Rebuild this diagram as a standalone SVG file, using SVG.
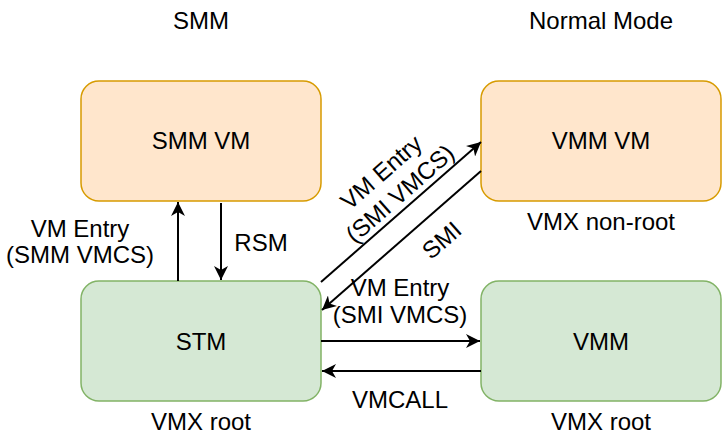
<svg xmlns="http://www.w3.org/2000/svg" width="722" height="442" viewBox="0 0 722 442">
<style>
text{font-family:"Liberation Sans",Arial,Helvetica,sans-serif;font-size:24px;fill:#000;text-anchor:middle}
.o{fill:#ffe6cc;stroke:#d79b00;stroke-width:1.5}
.g{fill:#d5e8d4;stroke:#82b366;stroke-width:1.5}
.c{fill:none;stroke:#000;stroke-width:2;marker-end:url(#a)}
</style>
<defs>
<marker id="a" markerUnits="userSpaceOnUse" markerWidth="16" markerHeight="14" refX="14" refY="7" orient="auto">
<path d="M0,0 L14,7 L0,14 L4,7 Z" fill="#000"/>
</marker>
</defs>
<rect width="722" height="442" fill="#fff"/>
<text x="201" y="29">SMM</text>
<text x="601" y="29">Normal Mode</text>
<g id="smmvm"><rect class="o" x="81" y="81" width="240" height="120" rx="18"/><text x="201" y="149">SMM VM</text></g>
<g id="vmmvm"><rect class="o" x="481" y="81" width="240" height="120" rx="18"/><text x="601" y="149">VMM VM</text><text x="601" y="230">VMX non-root</text></g>
<g id="stm"><rect class="g" x="81" y="281" width="240" height="120" rx="18"/><text x="201" y="350">STM</text><text x="201" y="430">VMX root</text></g>
<g id="vmm"><rect class="g" x="481" y="281" width="240" height="120" rx="18"/><text x="601" y="350">VMM</text><text x="601" y="430">VMX root</text></g>
<g id="connectors">
<path class="c" d="M178,281 L178,202"/>
<path class="c" d="M221,203 L221,280"/>
<path class="c" d="M321,282 L481,142"/>
<path class="c" d="M481,171 L322,310"/>
<path class="c" d="M321,341 L480,341"/>
<path class="c" d="M481,371 L322,371"/>
<text x="80" y="237">VM Entry</text>
<text x="80" y="263">(SMM VMCS)</text>
<text x="261" y="251">RSM</text>
<g transform="translate(381,172) rotate(-41.2)"><text x="0" y="8.6">VM Entry</text><text x="0" y="37">(SMI VMCS)</text></g>
<text transform="translate(441.5,240) rotate(-41.2)" x="0" y="8.6">SMI</text>
<text x="400" y="296">VM Entry</text>
<text x="400" y="323">(SMI VMCS)</text>
<text x="400" y="408">VMCALL</text>
</g>
</svg>
